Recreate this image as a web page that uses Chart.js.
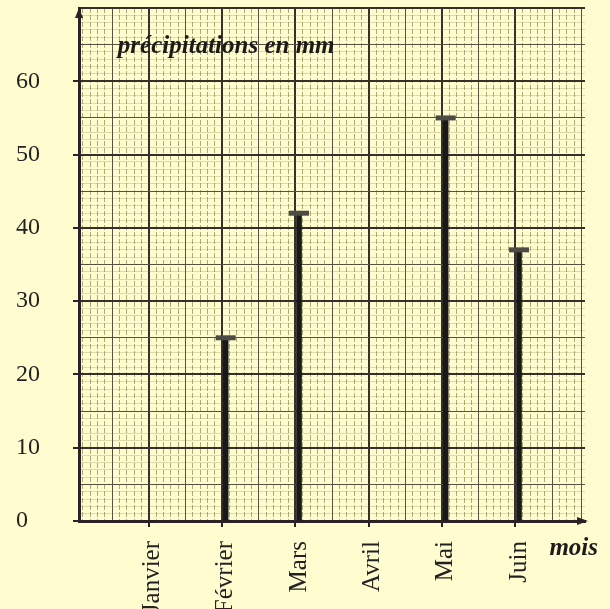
<!DOCTYPE html>
<html>
<head>
<meta charset="utf-8">
<script src="https://cdn.jsdelivr.net/npm/chart.js@4.4.0/dist/chart.umd.min.js"></script>
<style>
    html, body { margin: 0; padding: 0; background: #fffcd0; }
    #wrap { width: 610px; height: 609px; position: relative; }
</style>
</head>
<body>
<div id="wrap"><canvas id="graf"></canvas></div>
<script>
// mois et precipitations (mm)
const mois = ['Janvier', 'Février', 'Mars', 'Avril', 'Mai', 'Juin'];
const precipitations = [0, 25, 42, 0, 55, 37];
const yLabels = [0, 10, 20, 30, 40, 50, 60];

const titre = 'précipitations en mm';
const titreX = 'mois';

(function () {

    const ink = '#2b2226';
    const papier = '#fffcd0';

    // papier millimetre : gros trait tous les 10, moyen tous les 5, fin sinon
    let niveauX = function (c) {
        if (!c.tick) return 2;
        const i = Math.round(c.tick.value * 10);
        if (i % 10 === 0) return 2;
        if (i % 5 === 0 || i === 69) return 1;
        return 0;
    };
    let niveauY = function (c) {
        if (!c.tick) return 2;
        const i = Math.round(c.tick.value);
        if (i % 10 === 0) return 2;
        if (i % 5 === 0) return 1;
        return 0;
    };

    const stems = mois.map(function (m, i) {
        return {x: i + 1, y: precipitations[i]};
    });
    const caps = stems.filter(function (p) {
        return p.y > 0;
    });

    const decor = {
        id: 'decor',
        beforeDraw: function (chart) {
            const c = chart.ctx;
            c.save();
            c.fillStyle = papier;
            c.fillRect(0, 0, chart.width, chart.height);
            c.restore();
        },
        afterDraw: function (chart) {
            const c = chart.ctx;
            const a = chart.chartArea;
            const xs = chart.scales.x;
            const ys = chart.scales.y;
            c.save();
            c.fillStyle = ink;
            // fleche axe vertical
            c.beginPath();
            c.moveTo(a.left, a.top);
            c.lineTo(a.left - 4, a.top + 10);
            c.lineTo(a.left + 4, a.top + 10);
            c.closePath();
            c.fill();
            // fleche axe horizontal
            c.beginPath();
            c.moveTo(a.right + 3, a.bottom);
            c.lineTo(a.right - 8, a.bottom - 4);
            c.lineTo(a.right - 8, a.bottom + 4);
            c.closePath();
            c.fill();

            c.fillStyle = '#1e1a1a';
            c.font = 'italic bold 25px "Liberation Serif"';
            c.textBaseline = 'alphabetic';
            c.textAlign = 'left';
            c.fillText(titre, xs.getPixelForValue(0.53), ys.getPixelForValue(63.8));
            c.textAlign = 'right';
            c.fillText(titreX, chart.width - 12, a.bottom + 34);
            c.restore();
        }
    };

    const ctx = document.getElementById('graf').getContext('2d');

    const config = {
        type: 'bar',
        data: {
            datasets: [{
                    type: 'bar',
                    data: stems,
                    backgroundColor: '#1a1818',
                    borderWidth: 0,
                    barThickness: 5,
                    order: 2
                }, {
                    type: 'scatter',
                    data: caps,
                    pointStyle: 'line',
                    radius: 10,
                    borderWidth: 5,
                    borderColor: '#4e4b45',
                    order: 1
                }]
        },
        options: {
            animation: false,
            responsive: true,
            maintainAspectRatio: false,
            layout: {
                autoPadding: false,
                padding: {left: 16, right: 25, top: 8, bottom: 0}
            },
            scales: {
                x: {
                    type: 'linear',
                    min: 0,
                    max: 6.9,
                    offset: false,
                    afterFit: function (s) {
                        s.height = 88;
                        s.paddingLeft = 0;
                        s.paddingRight = 0;
                    },
                    ticks: {
                        stepSize: 0.1,
                        autoSkip: false,
                        minRotation: 90,
                        maxRotation: 90,
                        padding: 14,
                        color: '#222',
                        font: {family: 'Liberation Serif', size: 25},
                        callback: function (v) {
                            const i = Math.round(v * 10);
                            if (i % 10 === 0 && i >= 10 && i <= 60)
                                return mois[i / 10 - 1];
                            return '';
                        }
                    },
                    grid: {
                        color: function (c) {
                            const n = niveauX(c);
                            return n === 2 ? '#35302a' : (n === 1 ? '#55523f' : 'rgba(105, 105, 40, 0.55)');
                        },
                        lineWidth: function (c) {
                            return niveauX(c) === 2 ? 2 : 1;
                        },
                        tickLength: 6,
                        tickWidth: 2,
                        tickColor: function (c) {
                            if (!c.tick) return ink;
                            const i = Math.round(c.tick.value * 10);
                            return (i % 10 === 0 && i <= 60) ? ink : 'transparent';
                        }
                    },
                    border: {
                        color: ink,
                        width: 3,
                        dash: function (c) {
                            return niveauX(c) === 0 ? [5, 2] : [];
                        }
                    }
                },
                y: {
                    min: 0,
                    max: 70,
                    afterFit: function (s) {
                        s.width = 63;
                        s.paddingTop = 0;
                        s.paddingBottom = 0;
                    },
                    ticks: {
                        stepSize: 1,
                        autoSkip: false,
                        crossAlign: 'far',
                        color: '#222',
                        font: {family: 'Liberation Serif', size: 24},
                        callback: function (v) {
                            return yLabels.indexOf(v) >= 0 ? String(v) : '';
                        }
                    },
                    grid: {
                        color: function (c) {
                            const n = niveauY(c);
                            return n === 2 ? '#35302a' : (n === 1 ? '#55523f' : 'rgba(120, 120, 60, 0.25)');
                        },
                        lineWidth: function (c) {
                            return niveauY(c) === 2 ? 2 : 1;
                        },
                        tickLength: 6,
                        tickWidth: 2,
                        tickColor: function (c) {
                            if (!c.tick) return ink;
                            return yLabels.indexOf(c.tick.value) >= 0 ? ink : 'transparent';
                        }
                    },
                    border: {
                        color: ink,
                        width: 3
                    }
                }
            },
            plugins: {
                legend: {display: false},
                tooltip: {enabled: false},
                title: {display: false}
            }
        },
        plugins: [decor]
    };

    const myChart = new Chart(ctx, config);

})();
</script>
</body>
</html>
